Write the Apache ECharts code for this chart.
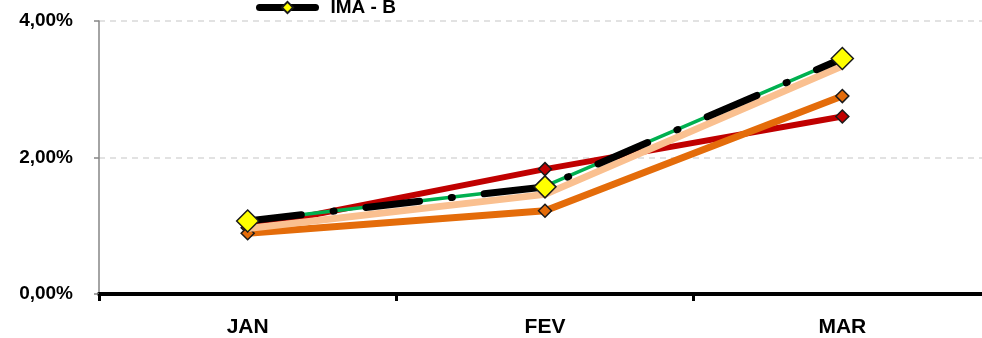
<!DOCTYPE html>
<html><head><meta charset="utf-8">
<script src="https://cdn.jsdelivr.net/npm/echarts@6/dist/echarts.min.js"></script>
<style>html,body{margin:0;padding:0;background:#fff;overflow:hidden}#c{width:994px;height:338px}</style>
</head><body><div id="c"></div>
<script>
const categories = ['JAN', 'FEV', 'MAR'];
const redValues = [0.97, 1.83, 2.60];
const orangeValues = [0.89, 1.22, 2.90];
const peachValues = [0.96, 1.46, 3.34];
const greenValues = [1.07, 1.58, 3.45];
const imaBValues = [1.07, 1.57, 3.45];
const yTicks = { min: 0, max: 4, interval: 2 };

const chart = echarts.init(document.getElementById('c'));
const font = 'Liberation Sans, Arial, sans-serif';
chart.setOption({
  animation: false,
  textStyle: { fontFamily: font },
  legend: {
    data: ['IMA - B'],
    left: 256, top: -2, padding: 0,
    itemWidth: 56, itemHeight: 14, itemGap: 10,
    textStyle: { fontFamily: font, fontWeight: 'bold', fontSize: 19, color: '#000', padding: [0, 0, 0, 10] },
    lineStyle: { type: 'solid', width: 7, cap: 'round', color: '#000' }
  },
  grid: { left: 99, top: 21, bottom: 44, right: 3, containLabel: false },
  xAxis: {
    type: 'category', data: categories, boundaryGap: true,
    axisLine: { lineStyle: { color: '#000', width: 4 } },
    axisTick: { show: true, length: 7, lineStyle: { color: '#000', width: 3 } },
    axisLabel: { margin: 23, fontSize: 21, fontWeight: 'bold', color: '#000', fontFamily: font }
  },
  yAxis: {
    type: 'value', min: yTicks.min, max: yTicks.max, interval: yTicks.interval,
    axisLine: { show: true, lineStyle: { color: '#868686', width: 1.5 } },
    axisTick: { show: true, length: 5, lineStyle: { color: '#868686', width: 1.5 } },
    splitLine: { show: true, lineStyle: { color: '#D9D9D9', width: 1.5, type: [6, 5] } },
    axisLabel: {
      margin: 26, fontSize: 19, fontWeight: 'bold', color: '#000', fontFamily: font,
      formatter: v => v.toFixed(2).replace('.', ',') + '%'
    }
  },
  series: [
    { name: 'R', type: 'line', data: redValues, z: 2,
      lineStyle: { color: '#C00000', width: 6 },
      symbol: 'diamond', symbolSize: 13,
      itemStyle: { color: '#C00000', borderColor: '#1a1a1a', borderWidth: 1.5 } },
    { name: 'O', type: 'line', data: orangeValues, z: 3,
      lineStyle: { color: '#E46C0A', width: 7 },
      symbol: 'diamond', symbolSize: 13,
      itemStyle: { color: '#E46C0A', borderColor: '#1a1a1a', borderWidth: 1.5 } },
    { name: 'P', type: 'line', data: peachValues, z: 4,
      lineStyle: { color: '#FAC090', width: 7 },
      symbol: 'none' },
    { name: 'G', type: 'line', data: greenValues, z: 5,
      lineStyle: { color: '#00B050', width: 3.5 },
      symbol: 'none' },
    { name: 'IMA - B', type: 'line', data: imaBValues, z: 6,
      lineStyle: { color: '#000', width: 7, type: [54, 32, 1, 32], cap: 'round' },
      symbol: 'diamond', symbolSize: 22,
      itemStyle: { color: '#FFFF00', borderColor: '#1a1a1a', borderWidth: 1.5 } }
  ]
});
</script></body></html>
